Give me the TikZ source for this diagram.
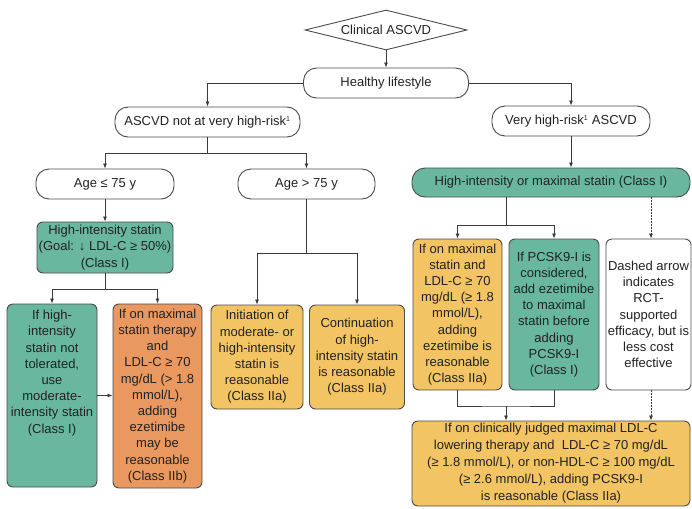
\documentclass[tikz,border=0pt]{standalone}
\usepackage{fontspec}
\setmainfont{Liberation Sans}
\usetikzlibrary{shapes.geometric,arrows.meta}
\definecolor{cGreen}{HTML}{69B79F}
\definecolor{cOrange}{HTML}{E99860}
\definecolor{cYellow}{HTML}{F2C464}
\definecolor{cBord}{HTML}{4A4A4A}
\definecolor{cLine}{HTML}{3A3A3A}
\definecolor{cText}{HTML}{222222}
\newcommand{\supone}{\textsuperscript{\fontsize{7}{7}\selectfont 1}}
\tikzset{
  pill/.style={draw=cBord, rounded corners=13pt, inner sep=0pt, minimum height=30pt, line width=0.9pt, fill=white, text=cText},
  cbox/.style={draw=cBord, rounded corners=6pt, inner sep=0pt, align=center, line width=0.9pt, text=cText},
  ptext/.style={inner sep=0pt, align=center, text=cText},
  connline/.style={draw=cLine, line width=0.8pt},
  connarrow/.style={connline, -{Latex[length=5pt,width=4pt]}},
  conndot/.style={connarrow, dash pattern=on 1.5pt off 1.5pt}
}
\begin{document}
\begin{tikzpicture}[x=1pt,y=-1pt,font=\fontsize{13}{16.2}\selectfont]
\useasboundingbox (0,0) rectangle (692,508);

% top
\node[diamond, shape aspect=4, draw=cBord, line width=0.9pt, inner sep=0pt, minimum width=162pt, minimum height=40pt, text=cText] (dia) at (386,30) {Clinical ASCVD};
\node[pill, minimum width=165pt] (healthy) at (386,83) {Healthy lifestyle};
\node[pill, minimum width=185pt] (notvh) at (207.5,122) {ASCVD not at very high-risk\supone};
\node[pill, minimum width=158pt] (vh) at (571,121) {Very high-risk\supone{} ASCVD};

% left branch
\node[pill, minimum width=138pt] (age1) at (105,184) {Age ≤ 75 y};
\node[pill, minimum width=137pt] (age2) at (306.5,184) {Age > 75 y};
\node[cbox, fill=cGreen, minimum width=136pt, minimum height=51pt] (histatin) at (105,247.5) {High-intensity statin\\(Goal: ↓ LDL-C ≥ 50\%)\\(Class I)};
\node[cbox, fill=cGreen, minimum width=90pt, minimum height=183pt] (ntol) at (52,395.5) {};
\node[ptext, anchor=north] (ntolt) at (52,310) {If high-\\intensity\\statin not\\tolerated,\\use\\moderate-\\intensity statin\\(Class I)};
\node[cbox, fill=cOrange, minimum width=89pt, minimum height=184pt] (eze1) at (157.5,396) {If on maximal\\statin therapy\\and\\LDL-C ≥ 70\\mg/dL (> 1.8\\mmol/L),\\adding\\ezetimibe\\may be\\reasonable\\(Class IIb)};
\node[cbox, fill=cYellow, minimum width=92pt, minimum height=104pt] (init) at (257,357) {Initiation of\\moderate- or\\high-intensity\\statin is\\reasonable\\(Class IIa)};
\node[cbox, fill=cYellow, minimum width=95pt, minimum height=104pt] (cont) at (357,357) {Continuation\\of high-\\intensity statin\\is reasonable\\(Class IIa)};

% right branch
\node[pill, fill=cGreen, minimum width=278pt, minimum height=29pt] (hiormax) at (551,182.5) {High-intensity or maximal statin (Class I)};
\node[cbox, fill=cYellow, minimum width=89pt, minimum height=151pt] (eze2) at (457.5,314.5) {If on maximal\\statin and\\LDL-C ≥ 70\\mg/dL (≥ 1.8\\mmol/L),\\adding\\ezetimibe is\\reasonable\\(Class IIa)};
\node[cbox, fill=cGreen, minimum width=90pt, minimum height=151pt] (pcsk) at (554,314.5) {If PCSK9-I is\\considered,\\add ezetimibe\\to maximal\\statin before\\adding\\PCSK9-I\\(Class I)};
\node[cbox, fill=white, minimum width=85pt, minimum height=151pt] (note) at (648.5,314.5) {Dashed arrow\\indicates\\RCT-\\supported\\efficacy, but is\\less cost\\effective};
\node[cbox, fill=cYellow, minimum width=278pt, minimum height=85pt, font=\fontsize{13}{17}\selectfont] (bottom) at (551,463.5) {If on clinically judged maximal LDL-C\\lowering therapy and\ \ LDL-C ≥ 70 mg/dL\\(≥ 1.8 mmol/L), or non-HDL-C ≥ 100 mg/dL\\(≥ 2.6 mmol/L), adding PCSK9-I\\is reasonable (Class IIa)};

% junctions
\coordinate (j1) at (207.5,153);
\coordinate (j2) at (105,289);
\coordinate (j3) at (306.5,253);
\coordinate (j4) at (506,225);
\coordinate (j5) at (506,406);
\coordinate (dx) at (651,0);

% connectors
\draw[connarrow] (dia.south) -- (healthy.north);
\draw[connarrow] (healthy.west) -| (notvh.north);
\draw[connarrow] (healthy.east) -| (vh.north);
\draw[connline] (notvh.south) -- (j1);
\draw[connarrow] (j1) -| (age1.north);
\draw[connarrow] (j1) -| (age2.north);
\draw[connarrow] (age1.south) -- (histatin.north);
\draw[connline] (histatin.south) -- (j2);
\draw[connarrow] (j2) -| (ntol.north);
\draw[connarrow] (j2) -| (eze1.north);
\draw[connarrow] (ntol.east) -- (eze1.west |- ntol.east);
\draw[connline] (age2.south) -- (j3);
\draw[connarrow] (j3) -| (init.north);
\draw[connarrow] (j3) -| (cont.north);
\draw[connarrow] (vh.south) -- (vh.south |- hiormax.north);
\draw[connline] (j4 |- hiormax.south) -- (j4);
\draw[connarrow] (j4) -| (eze2.north);
\draw[connarrow] (j4) -| (pcsk.north);
\draw[conndot] (dx |- hiormax.south) -- (dx |- note.north);
\draw[connline] (eze2.south) |- (j5) -| (pcsk.south);
\draw[connarrow] (j5) -- (j5 |- bottom.north);
\draw[conndot] (dx |- note.south) -- (dx |- bottom.north);
\end{tikzpicture}
\end{document}
